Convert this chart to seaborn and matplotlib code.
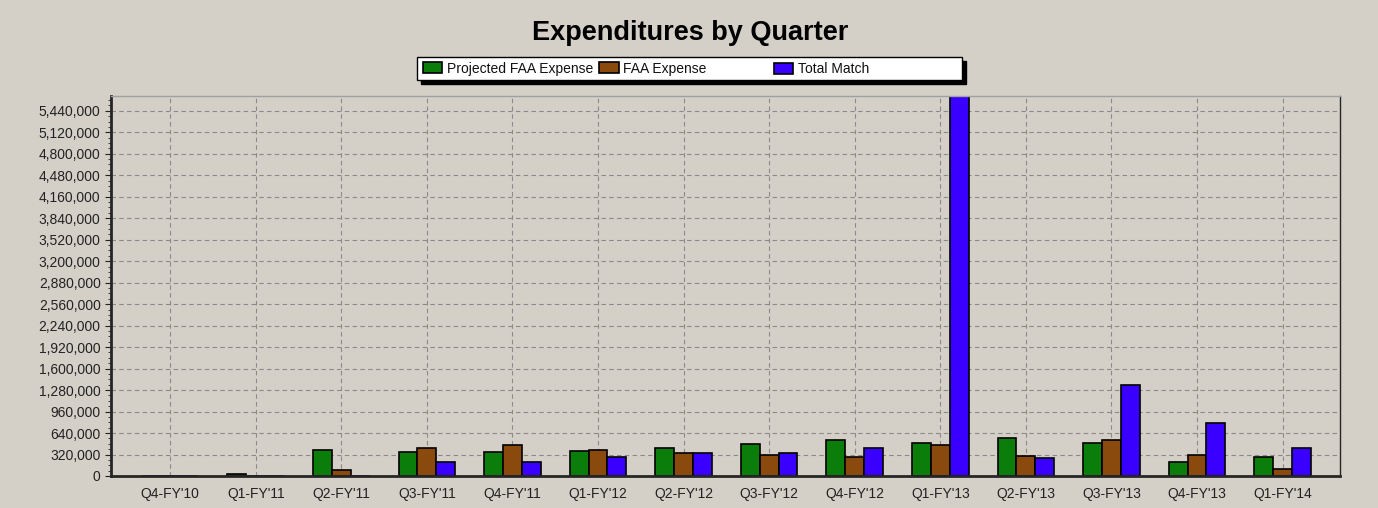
import numpy as np
import pandas as pd
import matplotlib.pyplot as plt
import seaborn as sns
from matplotlib.patches import Rectangle
from matplotlib.ticker import FuncFormatter, MultipleLocator

quarters = ["Q4-FY'10", "Q1-FY'11", "Q2-FY'11", "Q3-FY'11", "Q4-FY'11", "Q1-FY'12", "Q2-FY'12",
            "Q3-FY'12", "Q4-FY'12", "Q1-FY'13", "Q2-FY'13", "Q3-FY'13", "Q4-FY'13", "Q1-FY'14"]
projected = [0, 35000, 385000, 360000, 360000, 365000, 420000,
             475000, 540000, 495000, 560000, 495000, 205000, 285000]
faa = [0, 0, 90000, 415000, 455000, 385000, 340000,
       320000, 285000, 455000, 305000, 540000, 320000, 110000]
match = [0, 0, 0, 210000, 205000, 285000, 345000,
         340000, 420000, 6200000, 265000, 1350000, 790000, 420000]
series = ["Projected FAA Expense", "FAA Expense", "Total Match"]
colors = ["#0b7d0b", "#8a4a0e", "#3a00ff"]

df = pd.DataFrame({"quarter": quarters * 3,
                   "series": np.repeat(series, len(quarters)),
                   "value": projected + faa + match})

bg = "#d4d0c8"
W, H = 1378, 508
sns.set_style("ticks")
plt.rcParams['font.family'] = ['Liberation Sans', 'DejaVu Sans']

fig = plt.figure(figsize=(13.78, 5.08), dpi=100, facecolor=bg)
ax = fig.add_axes([0.0806, 0.063, 0.8918, 0.748])
ax.set_facecolor(bg)

sns.barplot(data=df, x="quarter", y="value", hue="series", order=quarters, hue_order=series,
            palette=colors, width=0.66, edgecolor="black", linewidth=1.2, saturation=1,
            ax=ax, legend=True)

ax.set_ylim(0, 5660000)
ax.set_xlim(-0.69, 13.67)
ax.yaxis.set_major_locator(MultipleLocator(320000))
ax.yaxis.set_minor_locator(MultipleLocator(80000))
ax.yaxis.set_major_formatter(FuncFormatter(lambda v, p: f"{int(v):,}"))
ax.set_xlabel("")
ax.set_ylabel("")
ax.tick_params(axis="both", labelsize=10, colors="#222222", length=4, width=0.8)
ax.tick_params(axis="y", which="minor", length=2, width=0.6)
ax.tick_params(axis="x", length=0, pad=8)
ax.grid(True, linestyle=(0, (4, 3)), color="#8a8a8a", linewidth=0.8)
ax.set_axisbelow(True)
ax.spines["left"].set_linewidth(2)
ax.spines["bottom"].set_linewidth(2)
ax.spines["right"].set_linewidth(1)
ax.spines["top"].set_linewidth(1)
ax.spines["top"].set_color("#a0a0a0")

# legend box with a hard black shadow, entries placed like the original
ax.legend_.remove()
handles, labels = ax.get_legend_handles_labels()
box_x0, box_x1, box_y0, box_y1 = 417, 962, 57, 80
fig.add_artist(Rectangle((box_x0 / W + 4 / W, 1 - (box_y1 + 4) / H), (box_x1 - box_x0) / W,
                         (box_y1 - box_y0) / H, transform=fig.transFigure,
                         facecolor="black", edgecolor="black"))
fig.add_artist(Rectangle((box_x0 / W, 1 - box_y1 / H), (box_x1 - box_x0) / W,
                         (box_y1 - box_y0) / H, transform=fig.transFigure,
                         facecolor="white", edgecolor="black", linewidth=1))
leg_kw = dict(fontsize=10, frameon=False, borderpad=0, handlelength=1.4, handleheight=0.9,
              handletextpad=0.35, borderaxespad=0, labelcolor="#111111")
fig.legend(handles[:2], labels[:2], loc="center left", ncol=2, columnspacing=0.4,
           bbox_to_anchor=(423 / W, 1 - 68.5 / H), **leg_kw)
fig.legend(handles[2:3], labels[2:3], loc="center left",
           bbox_to_anchor=(774 / W, 1 - 69.2 / H), **leg_kw)

fig.text(0.501, 1 - 33 / H, "Expenditures by Quarter", ha="center", va="center",
         fontsize=19.5, fontweight="bold", color="black")

fig.savefig("out.png", dpi=100, facecolor=bg)
